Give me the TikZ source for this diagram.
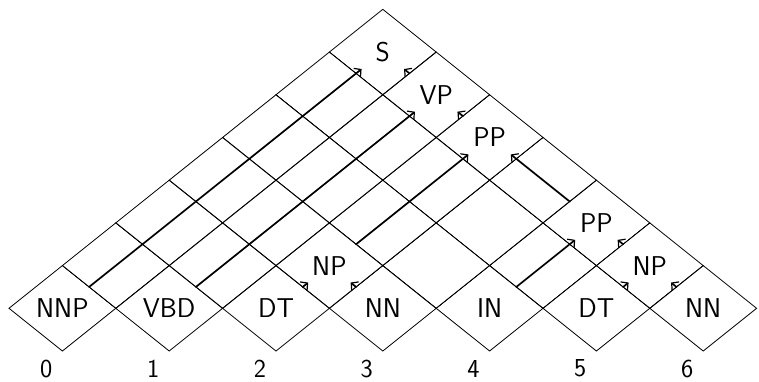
\documentclass[tikz,border=0pt]{standalone}
\usepackage{fontspec}
\usetikzlibrary{shapes.geometric,arrows.meta,calc}
\begin{document}
\begin{tikzpicture}[x=1bp,y=-1bp,
  cell/.style={shape=diamond,draw,line width=0.8bp,
    minimum width=106.8bp,minimum height=85.42bp,
    inner sep=0pt,outer sep=0pt},
  lab/.style={inner sep=0pt,font=\sffamily\fontsize{27.3}{30}\selectfont},
  num/.style={inner sep=0pt,font=\sffamily\fontsize{26}{30}\selectfont},
  back/.style={line width=1.7bp,line cap=round,
    -{Straight Barb[length=5bp,width=11bp,line width=1.2bp]}}]
\useasboundingbox (0,0) rectangle (759,381);

% chart cells: cell (i,k) covers words i..k
\foreach \i in {0,...,6}{
  \foreach \k in {\i,...,6}{
    \node[cell] (c\i\k) at ({62.4+53.4*(\i+\k)},{308.3-42.71*(\k-\i)}) {};
  }
}

% cell labels
\foreach \i/\k/\t in {0/0/NNP,1/1/VBD,2/2/DT,3/3/NN,4/4/IN,5/5/DT,6/6/NN,
                      2/3/NP,5/6/NP,4/6/PP,2/6/PP,1/6/VP,0/6/S}{
  \node[lab] (l\i\k) at (c\i\k.center) {\t};
}

% string positions
\foreach \i in {0,...,6}{
  \node[num] (n\i) at ($(c\i\i.south)+(-16.1,17.6)$) {\i};
}

% back pointers: left child -> parent, right child -> parent
\foreach \a/\p in {00/06,11/16,23/26,22/23,44/46,55/56}{
  \draw[back] (c\a.north east) -- ($(c\p.south west)!7bp!(c\p.north east)$);
}
\foreach \a/\p in {16/06,26/16,46/26,33/23,56/46,66/56}{
  \draw[back] (c\a.north west) -- ($(c\p.south east)!7bp!(c\p.north west)$);
}
\end{tikzpicture}
\end{document}
